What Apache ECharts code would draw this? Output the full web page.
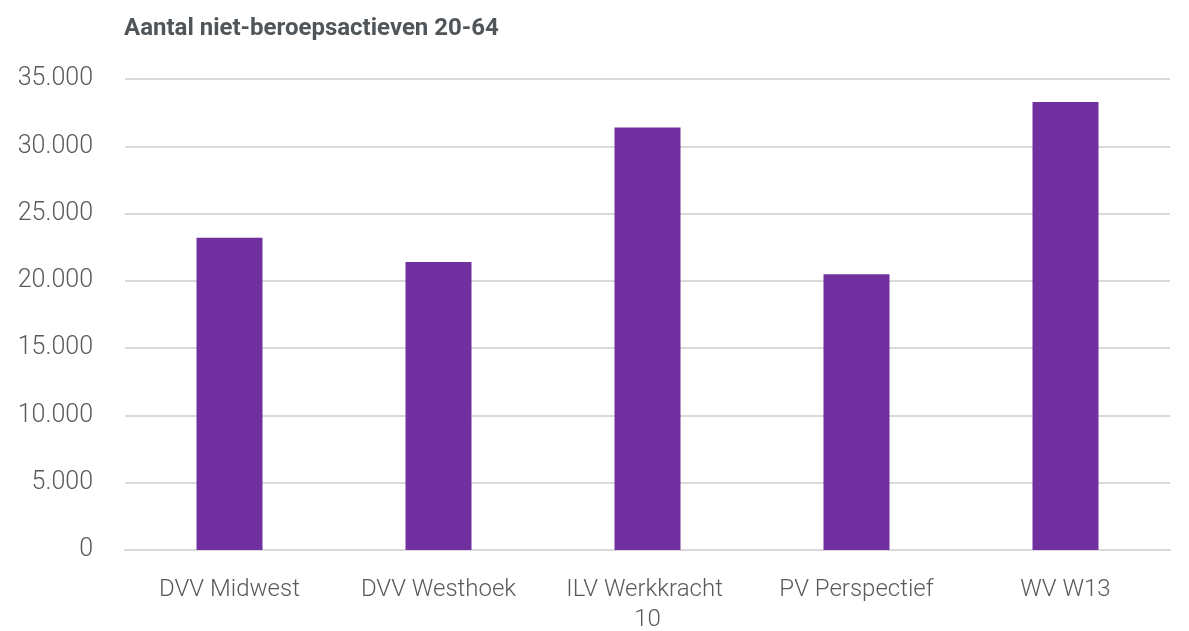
<!DOCTYPE html>
<html>
<head>
<meta charset="utf-8">
<script src="https://cdn.jsdelivr.net/npm/echarts@6/dist/echarts.min.js"></script>
<style>
  html, body { margin: 0; padding: 0; background: #fff; }
  #chart { width: 1189px; height: 631px; }
</style>
</head>
<body>
<div id="chart"></div>
<script>
  // categories and values
  var regions = ['DVV Midwest', 'DVV Westhoek', 'ILV Werkkracht 10', 'PV Perspectief', 'WV W13'];
  var nietActief = [23200, 21400, 31400, 20500, 33300];

  var myChart = echarts.init(document.getElementById('chart'));

  myChart.setOption({
    animation: false,
    title: {
      text: 'Aantal niet-beroepsactieven 20-64',
      left: 119,
      top: 12,
      textStyle: {
        fontFamily: 'Roboto',
        fontSize: 24,
        fontWeight: 'bold',
        color: '#505559'
      }
    },
    grid: {
      left: 125,
      right: 19,
      top: 79,
      bottom: 81,
      containLabel: false,
      outerBoundsMode: 'none'
    },
    xAxis: {
      type: 'category',
      data: regions,
      axisLine: { lineStyle: { color: '#d9d9d9', width: 2 } },
      axisTick: { show: false },
      axisLabel: {
        interval: 0,
        margin: 25,
        fontFamily: 'Roboto',
        fontWeight: 300,
        fontSize: 24,
        color: '#595959',
        lineHeight: 30,
        width: 190,
        overflow: 'break'
      }
    },
    yAxis: {
      type: 'value',
      min: 0,
      max: 35000,
      interval: 5000,
      splitLine: { lineStyle: { color: '#d9d9d9', width: 2 } },
      axisLabel: {
        margin: 32,
        fontFamily: 'Roboto',
        fontWeight: 300,
        fontSize: 25,
        color: '#595959',
        formatter: function (v) {
          return v.toLocaleString('nl-NL');
        }
      }
    },
    series: [
      {
        name: 'Aantal',
        type: 'bar',
        data: nietActief,
        barWidth: 66,
        itemStyle: { color: '#7030A0' }
      }
    ]
  });
</script>
</body>
</html>
